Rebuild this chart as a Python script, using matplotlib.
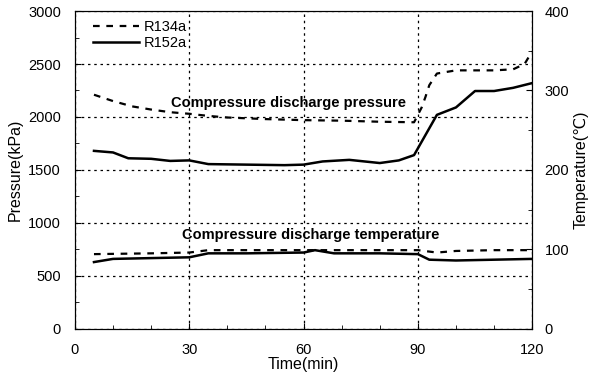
import matplotlib.pyplot as plt
from matplotlib.ticker import MultipleLocator

plt.rcParams["font.family"] = ["Liberation Sans", "DejaVu Sans"]

# --- Data ------------------------------------------------------------------

# discharge pressure (kPa)
p134_t = [5, 10, 15, 20, 25, 30, 35, 40, 50, 60, 70, 80, 89, 91, 92, 93, 95, 100, 110, 115, 118, 120]
p134_v = [2210, 2150, 2100, 2070, 2045, 2030, 2010, 1995, 1980, 1970, 1965, 1955, 1950, 2090, 2190, 2300, 2410, 2440, 2440, 2450, 2500, 2620]

p152_t = [5, 10, 14, 20, 25, 30, 35, 45, 55, 60, 65, 72, 80, 85, 89, 95, 100, 105, 110, 115, 120]
p152_v = [1680, 1665, 1610, 1605, 1585, 1590, 1555, 1550, 1545, 1550, 1580, 1595, 1565, 1590, 1640, 2020, 2090, 2245, 2245, 2275, 2320]

# discharge temperature (degC)
t134_t = [5, 20, 30, 35, 45, 60, 75, 90, 95, 100, 110, 120]
t134_v = [94, 95, 96, 99, 99, 99, 99, 99, 96, 98, 99, 99]

t152_t = [5, 10, 20, 30, 35, 45, 60, 63, 68, 80, 90, 93, 100, 110, 120]
t152_v = [84, 88, 89, 90, 95, 95, 96, 99, 95, 95, 94, 87, 86, 87, 88]

x_ticks = [0, 30, 60, 90, 120]

# --- Plot ------------------------------------------------------------------

fig = plt.figure(figsize=(5.9, 3.81), dpi=100)
ax = fig.add_axes([0.127, 0.137, 0.775, 0.834])
ax2 = ax.twinx()

dash = (0, (3, 3))
ax.plot(p134_t, p134_v, color="black", lw=1.6, linestyle=dash, label="R134a")
ax.plot(p152_t, p152_v, color="black", lw=1.8, label="R152a")
ax2.plot(t134_t, t134_v, color="black", lw=1.6, linestyle=dash)
ax2.plot(t152_t, t152_v, color="black", lw=1.8)

ax.set_xlim(0, 120)
ax.set_ylim(0, 3000)
ax2.set_ylim(0, 400)
ax.set_xticks(x_ticks)
ax.xaxis.set_minor_locator(MultipleLocator(10))
ax.yaxis.set_major_locator(MultipleLocator(500))
ax.yaxis.set_minor_locator(MultipleLocator(250))
ax2.yaxis.set_major_locator(MultipleLocator(100))
ax2.yaxis.set_minor_locator(MultipleLocator(50))

for a in (ax, ax2):
    a.tick_params(which="both", direction="in", labelsize=10.5)
    a.tick_params(which="major", length=4)
    a.tick_params(which="minor", length=3)
ax.tick_params(axis="y", pad=10)
ax2.tick_params(axis="y", pad=9)
ax.tick_params(axis="x", pad=10)

ax.grid(True, which="major", color="black", linestyle=(0, (2, 3)), lw=0.9)

ax.set_xlabel("Time(min)", fontsize=11.5, labelpad=0)
ax.set_ylabel("Pressure(kPa)", fontsize=11.5, labelpad=4)
ax2.set_ylabel("Temperature(\u2103)", fontsize=11.5, labelpad=3)

ax.text(56, 2130, "Compressure discharge pressure", fontsize=10.5,
        fontweight="bold", ha="center", va="center")
ax.text(62, 890, "Compressure discharge temperature", fontsize=10.5,
        fontweight="bold", ha="center", va="center")

ax.legend(loc="upper left", bbox_to_anchor=(0.02, 1.0), frameon=False,
          fontsize=10.5, handlelength=3.2, handletextpad=0.3, labelspacing=0.15,
          borderaxespad=0.2)

fig.savefig("out.png", dpi=100)
